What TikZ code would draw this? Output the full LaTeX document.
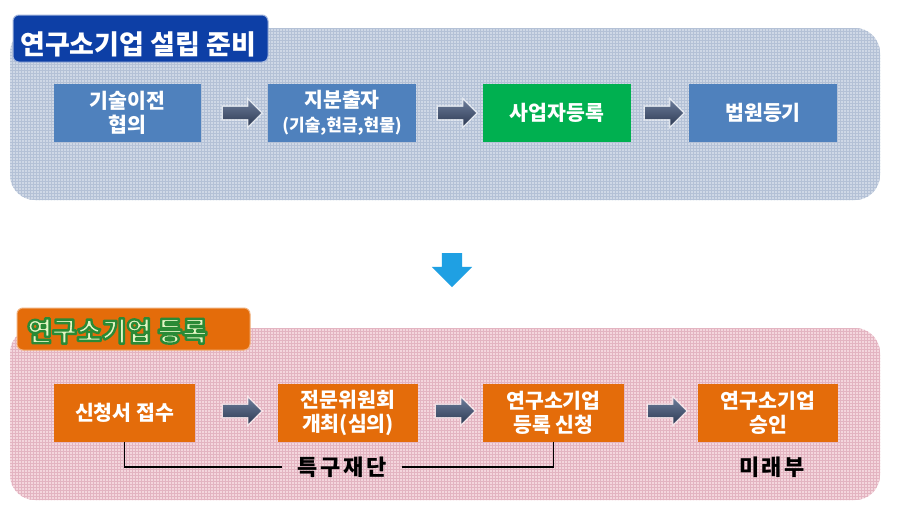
\documentclass[tikz,border=0pt]{standalone}
\usepackage{fontspec}
\newfontfamily\kr{Noto Sans CJK KR}
\usetikzlibrary{shapes.arrows,patterns}
\definecolor{boxblue}{HTML}{4F81BD}
\definecolor{boxgreen}{HTML}{00B050}
\definecolor{boxorange}{HTML}{E46C0A}
\definecolor{tabblue}{HTML}{0D3FA6}
\definecolor{panblue}{HTML}{CFD8E6}
\definecolor{panbluegrid}{HTML}{B4C1D6}
\definecolor{panpink}{HTML}{F4D6DD}
\definecolor{panpinkgrid}{HTML}{E3B4C1}
\definecolor{arrowtop}{HTML}{6A7A98}
\definecolor{arrowbot}{HTML}{2F3C55}
\definecolor{downblue}{HTML}{1FA0E3}
\definecolor{titlepale}{HTML}{E4F5C4}
\newcommand{\greenoutline}[1]{\special{pdf:literal direct 0.165 0.541 0.212 RG 2.4 w 1 j 2 Tr}#1\special{pdf:literal direct 0 Tr 1 w 0 j}}
\tikzset{
  boxnode/.style={minimum width=#1, minimum height=58pt, inner sep=0pt, text=white,
    font=\kr\bfseries\fontsize{20.5}{24}\selectfont, align=center},
  flowarrow/.style={single arrow, single arrow head extend=6.5pt, inner ysep=6pt, inner xsep=0pt,
    minimum height=38pt, top color=arrowtop, bottom color=arrowbot, draw=none,
    preaction={draw=white, line width=3pt, opacity=0.55}},
  tabtitle/.style={font=\kr\bfseries\fontsize{27}{30}\selectfont, inner sep=0pt, anchor=west},
  sidelabel/.style={font=\kr\bfseries\fontsize{22}{26}\selectfont\addfontfeature{LetterSpace=12}, inner sep=0pt}
}
\begin{document}
\begin{tikzpicture}[x=1pt,y=-1pt]
\useasboundingbox (0,0) rectangle (905,520);
\fill[white] (0,0) rectangle (905,520);

% ---------- top panel ----------
\fill[panblue, rounded corners=25pt] (10,28) rectangle (880,200);
\fill[pattern=grid, pattern color=panbluegrid, rounded corners=25pt] (10,28) rectangle (880,200);
\fill[tabblue, draw=white!60!tabblue, line width=1pt, rounded corners=6pt] (13,15) rectangle (268,62);
\node[tabtitle, text=white] (t1) at (20,44) {연구소기업 설립 준비};

\node[boxnode=147pt, fill=boxblue] (a1) at (127.5,112.5) {기술이전\\협의};
\node[boxnode=148pt, fill=boxblue] (a2) at (342,112.5) {지분출자\\{\fontsize{17}{20}\selectfont(기술,현금,현물)}};
\node[boxnode=148pt, fill=boxgreen] (a3) at (557,112.5) {사업자등록};
\node[boxnode=148pt, fill=boxblue] (a4) at (763,112.5) {법원등기};

\node[flowarrow] (ar1) at (239,113) {};
\node[flowarrow] (ar2) at (454,113) {};
\node[flowarrow] (ar3) at (661,113) {};

% ---------- down arrow ----------
\node[single arrow, single arrow head extend=10pt, inner ysep=10pt, inner xsep=0pt,
  minimum height=34pt, fill=downblue, rotate=-90] (down) at (452,265) {};

% ---------- bottom panel ----------
\fill[panpink, rounded corners=25pt] (10,328) rectangle (880,500);
\fill[pattern=grid, pattern color=panpinkgrid, rounded corners=25pt] (10,328) rectangle (880,500);
\fill[boxorange, draw=boxorange!55!white, line width=1pt, rounded corners=6pt] (17,308) rectangle (250,350);
\node[tabtitle, text=titlepale] (t2) at (27,331) {\greenoutline{연구소기업 등록}};

\node[boxnode=141pt, fill=boxorange] (b1) at (124.5,413) {신청서 접수};
\node[boxnode=140pt, fill=boxorange] (b2) at (348,413) {전문위원회\\개최(심의)};
\node[boxnode=141pt, fill=boxorange] (b3) at (553.5,413) {연구소기업\\등록 신청};
\node[boxnode=140pt, fill=boxorange] (b4) at (768,413) {연구소기업\\승인};

\node[flowarrow] (br1) at (239,411) {};
\node[flowarrow] (br2) at (452,411) {};
\node[flowarrow] (br3) at (664,411) {};

\node[sidelabel, inner xsep=15pt] (tk) at (342,467) {특구재단};
\draw[line width=1.8pt] (b1.south) |- (tk.west);
\draw[line width=1.8pt] (tk.east) -| (b3.south);
\node[sidelabel] (mr) at (772,467) {미래부};
\end{tikzpicture}
\end{document}
